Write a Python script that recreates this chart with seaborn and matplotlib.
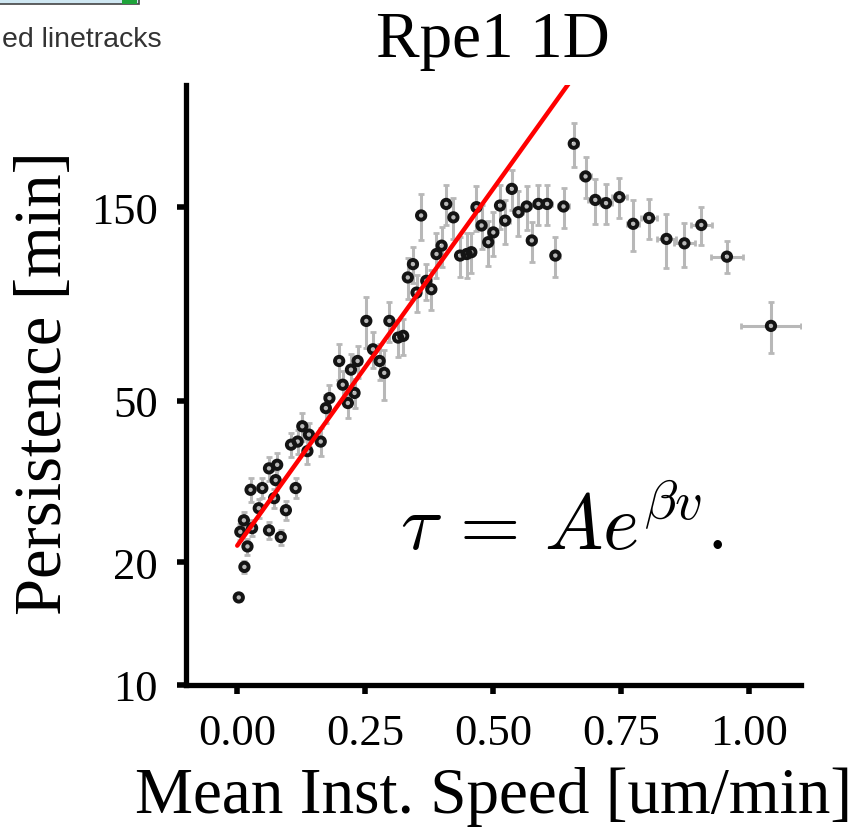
import numpy as np
import pandas as pd
import matplotlib
matplotlib.use("Agg")
import matplotlib.pyplot as plt
from matplotlib.patches import Rectangle
import seaborn as sns

# ---- data ----
speed = [0.003, 0.014, 0.020, 0.006, 0.013, 0.029, 0.042, 0.062, 0.085, 0.095,
         0.026, 0.049, 0.062, 0.078, 0.075, 0.114, 0.072, 0.105, 0.127, 0.118,
         0.140, 0.163, 0.137, 0.173, 0.180, 0.206, 0.216, 0.229, 0.199, 0.222,
         0.235, 0.252, 0.265, 0.278, 0.287, 0.297, 0.314, 0.324, 0.333, 0.343,
         0.350, 0.369, 0.379, 0.359, 0.389, 0.399, 0.408, 0.422, 0.435, 0.448,
         0.457, 0.467, 0.477, 0.490, 0.500, 0.513, 0.523, 0.536, 0.549, 0.565,
         0.575, 0.588, 0.605, 0.621, 0.637, 0.657, 0.680, 0.699, 0.720, 0.746,
         0.773, 0.804, 0.838, 0.873, 0.906, 0.956, 1.042]
persistence = [16.4, 19.5, 21.9, 23.8, 25.4, 24.3, 27.2, 24.0, 23.1, 26.9,
               30.2, 30.5, 34.1, 34.8, 31.9, 30.5, 28.8, 39.0, 43.3, 39.7,
               41.3, 39.7, 37.6, 48.0, 50.8, 54.8, 49.4, 52.3, 62.7, 59.7,
               62.7, 78.7, 67.0, 62.7, 58.6, 78.7, 71.6, 72.3, 100.7, 108.6,
               92.4, 98.8, 94.2, 143.1, 115.0, 120.6, 152.8, 141.6, 114.0, 115.0,
               116.2, 150.0, 135.2, 123.0, 130.0, 151.4, 139.0, 166.4, 145.8, 150.6,
               124.2, 152.8, 152.8, 114.0, 150.6, 215.0, 178.6, 156.3, 153.5, 158.8,
               136.5, 141.1, 125.3, 122.2, 135.6, 113.3, 76.5]
persistence_err = [0.3, 0.7, 1.0, 1.1, 1.2, 1.1, 1.4, 1.1, 1.0, 1.5,
                   2.1, 1.7, 2.3, 2.4, 1.8, 1.7, 1.6, 2.7, 3.4, 2.7,
                   2.8, 3.2, 2.6, 3.8, 4.0, 4.4, 3.9, 4.2, 6.4, 5.4,
                   5.7, 11.2, 6.9, 6.4, 8.3, 9.0, 7.3, 7.4, 11.5, 11.1,
                   9.5, 10.1, 10.7, 18.7, 14.4, 13.7, 17.4, 16.1, 13.0, 14.4,
                   13.2, 18.8, 16.9, 15.4, 16.3, 19.0, 17.4, 18.9, 18.3, 18.9,
                   14.1, 17.4, 17.4, 13.0, 17.1, 26.9, 20.3, 19.6, 17.5, 18.1,
                   19.4, 16.1, 19.2, 15.3, 14.7, 10.3, 10.9]
speed_err = [0.003, 0.003, 0.003, 0.003, 0.003, 0.004, 0.004, 0.004, 0.004, 0.004,
             0.004, 0.004, 0.004, 0.004, 0.004, 0.005, 0.004, 0.005, 0.005, 0.005,
             0.005, 0.005, 0.005, 0.005, 0.005, 0.006, 0.006, 0.006, 0.006, 0.006,
             0.006, 0.006, 0.006, 0.006, 0.006, 0.006, 0.007, 0.007, 0.007, 0.007,
             0.007, 0.007, 0.007, 0.007, 0.007, 0.007, 0.008, 0.008, 0.008, 0.008,
             0.008, 0.008, 0.008, 0.008, 0.008, 0.008, 0.009, 0.009, 0.009, 0.009,
             0.009, 0.009, 0.009, 0.009, 0.010, 0.008, 0.010, 0.014, 0.012, 0.015,
             0.012, 0.016, 0.018, 0.020, 0.020, 0.031, 0.058]

fit_A = 22.0
fit_beta = 4.05
fit_speed = [0.0, 0.70]

x_ticks = [0.00, 0.25, 0.50, 0.75, 1.00]
x_ticklabels = ["0.00", "0.25", "0.50", "0.75", "1.00"]
y_ticks = [10, 20, 50, 150]
y_ticklabels = ["10", "20", "50", "150"]

title = "Rpe1 1D"
xlabel = "Mean Inst. Speed [um/min]"
ylabel = "Persistence [min]"
formula = r"$\tau\, =\, Ae^{\beta v}.$"
corner_text = "ed linetracks"

# ---- style ----
sns.set_theme(style="ticks")
plt.rcParams["font.family"] = ["Liberation Serif", "DejaVu Serif"]
plt.rcParams["mathtext.fontset"] = "cm"

df = pd.DataFrame({"speed": speed, "persistence": persistence})
fit_df = pd.DataFrame({"speed": fit_speed,
                       "tau": [fit_A * np.exp(fit_beta * v) for v in fit_speed]})

fig = plt.figure(figsize=(8.58, 8.29), dpi=100)
ax = fig.add_axes([0.2168, 0.1729, 0.7164, 0.7234])

ax.errorbar(speed, persistence, yerr=persistence_err, xerr=speed_err, fmt="none",
            ecolor="#b8b8b8", elinewidth=2.2, capsize=2.5, capthick=2, zorder=1)
sns.scatterplot(data=df, x="speed", y="persistence", ax=ax, marker="o", s=36,
                facecolors="none", edgecolors="#141414", linewidths=2.8, zorder=3,
                legend=False)
sns.lineplot(data=fit_df, x="speed", y="tau", ax=ax, color="#ff0000", lw=3.2,
             zorder=4, legend=False)

ax.set_yscale("log")
ax.set_xlim(-0.1, 1.1)
ax.set_ylim(10, 300)
ax.set_xticks(x_ticks)
ax.set_xticklabels(x_ticklabels)
ax.set_yticks(y_ticks)
ax.set_yticklabels(y_ticklabels)
ax.minorticks_off()

for side in ["top", "right"]:
    ax.spines[side].set_visible(False)
for side in ["left", "bottom"]:
    ax.spines[side].set_linewidth(3.8)
    ax.spines[side].set_color("black")
ax.tick_params(axis="both", which="major", length=6.3, width=4, color="black",
               labelsize=32, pad=14, labelcolor="black")

ax.set_title(title, fontsize=47, pad=21, color="black")
ax.set_xlabel(xlabel, fontsize=47, color="black")
ax.set_ylabel(ylabel, fontsize=48, color="black")
ax.xaxis.set_label_coords(0.5, -0.135)
ax.yaxis.set_label_coords(-0.181, 0.505)

ax.text(0.348, 0.226, formula, transform=ax.transAxes, fontsize=56,
        ha="left", va="baseline", color="black")

# cropped legend fragment at the top-left corner
fig.patches.append(Rectangle((-0.01, 0.9935), 0.172, 0.03, transform=fig.transFigure,
                             facecolor="#cfe7f2", edgecolor="#444444", lw=1.2))
fig.patches.append(Rectangle((0.142, 0.9935), 0.018, 0.03, transform=fig.transFigure,
                             facecolor="#1fa33a", edgecolor="none"))
fig.text(0.002, 0.9433, corner_text, fontsize=20.5, ha="left", va="baseline",
         color="#333333", family=["Liberation Sans", "DejaVu Sans"])

fig.savefig("out.png", dpi=100)
